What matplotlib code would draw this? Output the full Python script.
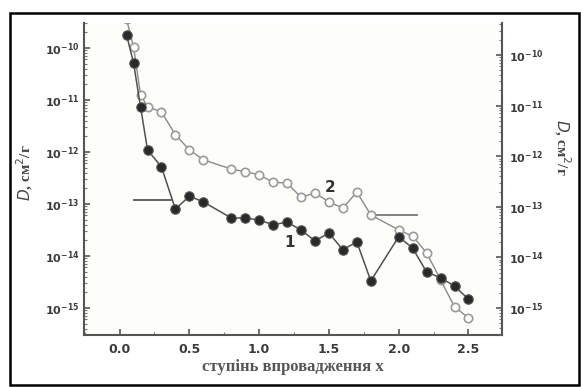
import matplotlib.pyplot as plt
import numpy as np
from matplotlib.patches import Rectangle
from matplotlib.ticker import FixedLocator, LogLocator, MultipleLocator, FuncFormatter, NullFormatter

# ступінь впровадження x
x1 = [0.05, 0.1, 0.15, 0.2, 0.3, 0.4, 0.5, 0.6, 0.8, 0.9, 1.0, 1.1, 1.2,
      1.3, 1.4, 1.5, 1.6, 1.7, 1.8, 2.0, 2.1, 2.2, 2.3, 2.4, 2.5]
# log10 D, curve 1 (filled)
logD1 = [-9.75, -10.29, -11.13, -11.96, -12.29, -13.10, -12.85, -12.96, -13.27,
         -13.27, -13.31, -13.40, -13.35, -13.50, -13.71, -13.56, -13.88, -13.73,
         -14.48, -13.63, -13.85, -14.31, -14.42, -14.58, -14.83]
x2 = [0.05, 0.1, 0.15, 0.2, 0.3, 0.4, 0.5, 0.6, 0.8, 0.9, 1.0, 1.1, 1.2,
      1.3, 1.4, 1.5, 1.6, 1.7, 1.8, 2.0, 2.1, 2.2, 2.3, 2.4, 2.5]
# log10 D, curve 2 (open)
logD2 = [-9.45, -9.98, -10.90, -11.13, -11.23, -11.67, -11.96, -12.15, -12.33,
         -12.38, -12.44, -12.58, -12.60, -12.87, -12.79, -12.96, -13.08, -12.77,
         -13.21, -13.50, -13.62, -13.94, -14.46, -14.98, -15.19]

# pointer lines to the axes
ptr1_x = [0.10, 0.37]
ptr1_logy = [-12.92, -12.92]
ptr2_x = [1.82, 2.13]
ptr2_logy = [-13.21, -13.21]

ytick_pows = [-10, -11, -12, -13, -14, -15]
xticks = [0.0, 0.5, 1.0, 1.5, 2.0, 2.5]

D1 = 10.0 ** np.array(logD1)
D2 = 10.0 ** np.array(logD2)

fig = plt.figure(figsize=(5.81, 3.87), dpi=100)
fig.patch.set_facecolor('white')
ax = fig.add_axes([0.1446, 0.1344, 0.7194, 0.8062])
ax.set_facecolor('#fdfdfa')

ax.plot(x2, D2, '-', color='#8a8a8a', lw=1.0, marker='o', ms=6,
        mfc='white', mec='#9a9a9a', mew=1.2, zorder=3)
ax.plot(x1, D1, '-', color='#505050', lw=1.1, marker='o', ms=6.8,
        mfc='#2a2a2a', mec='#555555', mew=0.8, zorder=4)
ax.plot(ptr1_x, 10.0 ** np.array(ptr1_logy), '-', color='#555555', lw=1.3)
ax.plot(ptr2_x, 10.0 ** np.array(ptr2_logy), '-', color='#777777', lw=1.3)

ax.text(1.22, 10 ** -13.75, '1', fontsize=11, fontweight='bold', color='#333333',
        ha='center', va='center')
ax.text(1.51, 10 ** -12.69, '2', fontsize=11, fontweight='bold', color='#333333',
        ha='center', va='center')

ax.set_yscale('log')
ax.set_xlim(-0.255, 2.74)
ax.set_ylim(10 ** -15.52, 10 ** -9.52)

fmt = FuncFormatter(lambda v, p: r'$\mathbf{10^{%d}}$' % int(round(np.log10(v))))
ax.yaxis.set_major_locator(FixedLocator([10.0 ** p for p in ytick_pows]))
ax.yaxis.set_major_formatter(fmt)
ax.yaxis.set_minor_locator(LogLocator(base=10, subs=np.arange(2, 10), numticks=20))
ax.yaxis.set_minor_formatter(NullFormatter())
ax.xaxis.set_major_locator(FixedLocator(xticks))
ax.xaxis.set_minor_locator(MultipleLocator(0.25))
ax.xaxis.set_major_formatter(FuncFormatter(lambda v, p: '%.1f' % v))

for s in ['left', 'bottom', 'right']:
    ax.spines[s].set_color('#555555')
    ax.spines[s].set_linewidth(1.5)
ax.spines['top'].set_visible(False)
ax.spines['right'].set_visible(False)

ax.tick_params(which='major', direction='in', length=4, width=1.2, color='#555555',
               labelsize=8, labelcolor='#3a3a3a')
ax.tick_params(which='minor', direction='in', length=2, width=0.8, color='#777777')
ax.tick_params(axis='x', labelsize=9, pad=6)
for lab in ax.get_xticklabels():
    lab.set_fontweight('bold')

ax2 = ax.twinx()
ax2.set_yscale('log')
ax2.set_ylim(10 ** -15.53, 10 ** -9.37)
ax2.yaxis.set_major_locator(FixedLocator([10.0 ** p for p in ytick_pows]))
ax2.yaxis.set_major_formatter(fmt)
ax2.yaxis.set_minor_locator(LogLocator(base=10, subs=np.arange(2, 10), numticks=20))
ax2.yaxis.set_minor_formatter(NullFormatter())
for s in ['left', 'top', 'bottom']:
    ax2.spines[s].set_visible(False)
ax2.spines['right'].set_color('#555555')
ax2.spines['right'].set_linewidth(1.5)
ax2.tick_params(which='major', direction='in', length=4, width=1.2, color='#555555',
                labelsize=8, labelcolor='#3a3a3a', pad=5)
ax2.tick_params(which='minor', direction='in', length=2, width=0.8, color='#777777')

ax.set_xlabel('ступінь впровадження x', fontfamily='Liberation Serif', fontweight='bold',
              fontsize=12, color='#555555', labelpad=2)
ax.set_ylabel(r'$\mathit{D}$, см$^{2}$/г', fontfamily='Liberation Serif', fontweight='bold',
              fontsize=11, color='#444444')
ax.yaxis.set_label_coords(-0.118, 0.52)
ax2.set_ylabel(r'$\mathit{D}$, см$^{2}$/г', fontfamily='Liberation Serif', fontweight='bold',
               fontsize=11, color='#444444', rotation=270)
ax2.yaxis.set_label_coords(1.17, 0.6)

fig.patches.append(Rectangle((0.017, 0.004), 0.979, 0.962, transform=fig.transFigure,
                             fill=False, edgecolor='black', lw=1.8))

fig.savefig('out.png', dpi=100)
